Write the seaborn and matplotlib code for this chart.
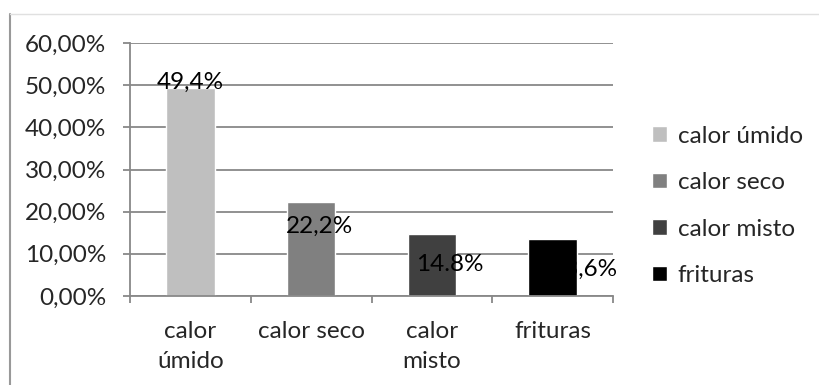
import matplotlib
matplotlib.use("Agg")
import matplotlib.pyplot as plt
import seaborn as sns
import pandas as pd
from matplotlib.lines import Line2D
from matplotlib.ticker import FuncFormatter, MultipleLocator

categories = ["calor úmido", "calor seco", "calor misto", "frituras"]
tick_labels = ["calor\númido", "calor seco", "calor\nmisto", "frituras"]
values = [49.4, 22.2, 14.8, 13.6]
value_labels = ["49,4%", "22,2%", "14.8%", "13,6%"]
colors = ["#BFBFBF", "#808080", "#404040", "#000000"]

sns.set_theme(style="white")
plt.rcParams["font.family"] = ["Lato", "DejaVu Sans"]
FS = 17.5

df = pd.DataFrame({"cat": categories, "val": values})

fig = plt.figure(figsize=(8.19, 3.85), dpi=100)
ax = fig.add_axes([130/819, 1-296/385, (613-130)/819, (296-43)/385])

sns.barplot(data=df, x="cat", y="val", hue="cat", palette=colors, width=0.4,
            dodge=False, legend=True, ax=ax, saturation=1)

ax.set_ylim(0, 60)
ax.set_xlim(-0.5, 3.5)
ax.yaxis.set_major_locator(MultipleLocator(10))
ax.yaxis.set_major_formatter(FuncFormatter(lambda v, p: f"{v:.2f}".replace(".", ",") + "%"))
ax.grid(axis="y", color="#888888", linewidth=1.3)
ax.set_axisbelow(True)
for s in ["top", "right"]:
    ax.spines[s].set_visible(False)
for s in ["left", "bottom"]:
    ax.spines[s].set_color("#888888")
    ax.spines[s].set_linewidth(1.3)

# category ticks at boundaries, labels at centers
ax.set_xticks([-0.5, 0.5, 1.5, 2.5, 3.5])
ax.set_xticklabels([])
ax.set_xticks([0, 1, 2, 3], minor=True)
ax.set_xticklabels(tick_labels, minor=True, fontsize=FS, linespacing=1.55)
ax.tick_params(axis="x", which="major", length=5, width=1.3, color="#888888", bottom=True)
ax.tick_params(axis="x", which="minor", length=0, pad=18)
ax.tick_params(axis="y", length=5, width=1.3, color="#888888", left=True, pad=12, labelsize=FS)
ax.set_xlabel("")
ax.set_ylabel("")

# data labels (Excel-like placement offsets, in points)
label_offsets = [(0, 4), (6, -17), (13, -22), (22, -22)]
for i, (v, t) in enumerate(zip(values, value_labels)):
    dx, dy = label_offsets[i]
    ax.annotate(t, (i, v), xytext=(dx, dy), textcoords="offset points",
                ha="center", va="center", fontsize=FS, color="black", zorder=5)

handles, labels = ax.get_legend_handles_labels()
ax.legend(handles, labels, loc="center left", bbox_to_anchor=(652/819, 1-206/385),
          bbox_transform=fig.transFigure, frameon=False, fontsize=FS,
          handlelength=0.6, handleheight=0.6, handletextpad=0.45, labelspacing=1.05,
          borderaxespad=0, borderpad=0)

# outer chart frame
fig.add_artist(Line2D([10/819, 10/819], [0, 1-14/385], transform=fig.transFigure,
                      color="#999999", linewidth=1.5))
fig.add_artist(Line2D([10/819, 1], [1-14/385, 1-14/385], transform=fig.transFigure,
                      color="#e0e0e0", linewidth=1))

fig.savefig("out.png", dpi=100)
